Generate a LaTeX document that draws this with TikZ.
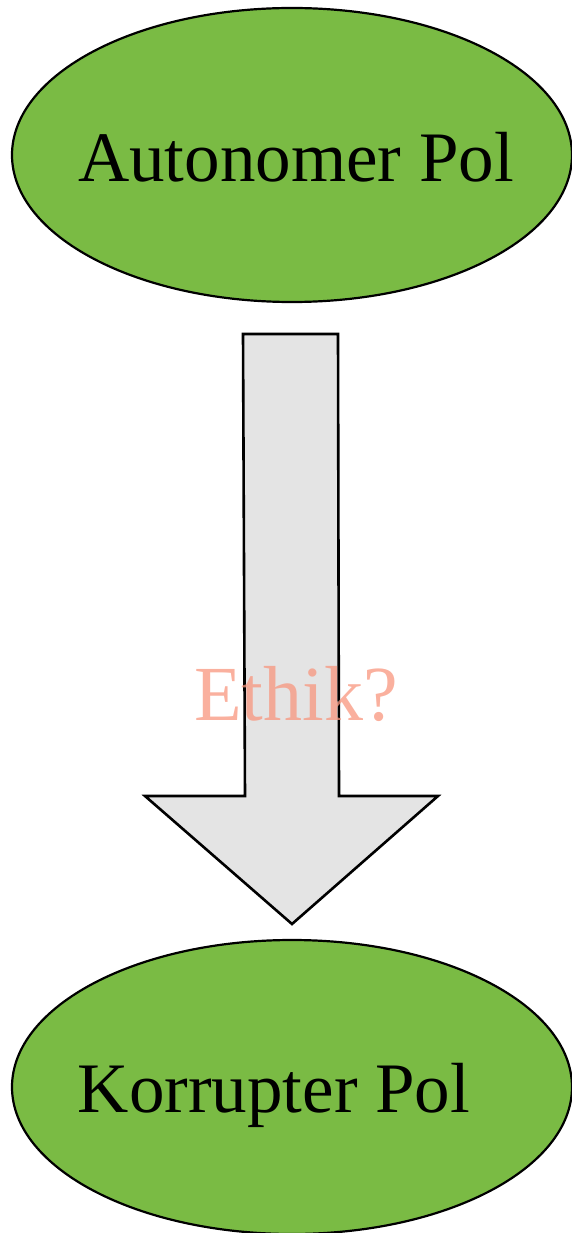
\documentclass[tikz,border=0pt]{standalone}
\usepackage{fontspec}
\setmainfont{Liberation Serif}
\usetikzlibrary{shapes.geometric}
\definecolor{polgreen}{RGB}{122,187,68}
\definecolor{arrowgray}{RGB}{228,228,228}
\definecolor{salmon}{RGB}{248,150,126}
\begin{document}
\begin{tikzpicture}[x=1pt,y=-1pt,
  pol/.style={ellipse,draw=black,line width=2.2pt,fill=polgreen,minimum width=560pt,minimum height=294pt,inner sep=0pt},
  poltext/.style={font=\fontsize{71}{80}\selectfont,text=black,inner sep=0pt,anchor=base},
  blockarrow/.style={draw=black,line width=2.6pt,fill=arrowgray,line join=miter}]
\useasboundingbox (0,0) rectangle (572,1233);
\node[pol] (top) at (292,155) {};
\node[pol] (bot) at (292,1087) {};
\node[poltext] (toptext) at (296,182) {Autonomer Pol};
\node[poltext] (bottext) at (274,1112) {Korrupter Pol};
\draw[blockarrow] (243,334) -- (338,334) -- (339,796) -- (438,796) -- (292,924) -- (145,796) -- (245,796) -- cycle;
\node[font=\fontsize{78}{88}\selectfont,text=salmon,text opacity=0.75,inner sep=0pt,anchor=base] (ethik) at (296,720) {Ethik?};
\end{tikzpicture}
\end{document}
